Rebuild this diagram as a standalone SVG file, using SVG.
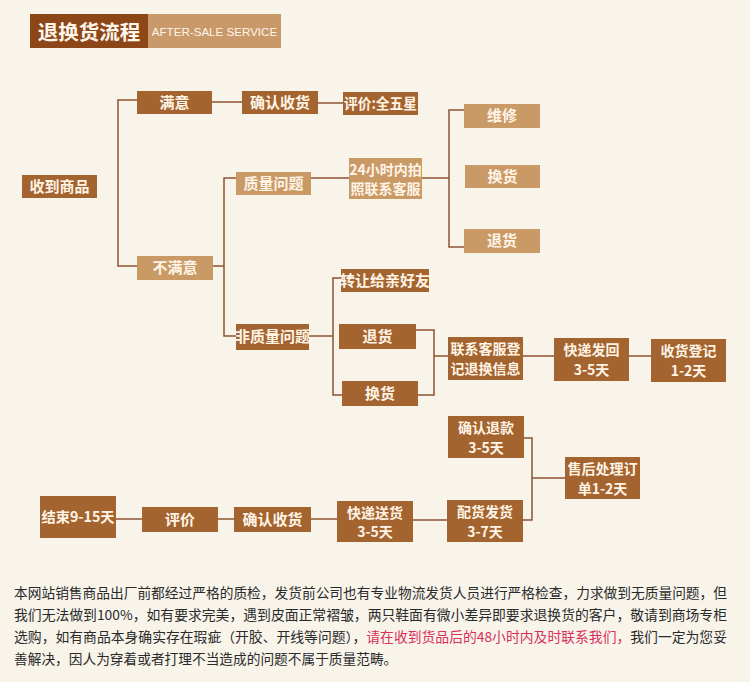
<svg xmlns="http://www.w3.org/2000/svg" width="750" height="682" viewBox="0 0 750 682">
<style>
.dk{fill:#a4642f}
.lt{fill:#c99a66}
.t{fill:#fff4e6;font-family:"Noto Sans CJK SC","Liberation Sans",sans-serif;font-size:15px;font-weight:bold;text-anchor:middle}
.t2{fill:#fff4e6;font-family:"Noto Sans CJK SC","Liberation Sans",sans-serif;font-size:14px;font-weight:bold;text-anchor:middle}
.c{fill:none;stroke:#8e5330;stroke-width:1.5}
.f{fill:#2a2a2a;font-family:"Noto Sans CJK SC","Liberation Sans",sans-serif;font-size:13.7px}
</style>
<rect width="750" height="682" fill="#f8f4ea"/>
<g id="header">
<rect x="30" y="14" width="118" height="34" fill="#8c4618"/>
<rect x="148" y="14" width="133" height="34" fill="#c9996a"/>
<text x="89" y="39.5" fill="#fff6ec" font-family="Noto Sans CJK SC, Liberation Sans, sans-serif" font-size="20.5" font-weight="bold" text-anchor="middle">退换货流程</text>
<text x="214.5" y="35.5" fill="#fff6ec" font-family="Liberation Sans, Arial, sans-serif" font-size="11.6" text-anchor="middle">AFTER-SALE SERVICE</text>
</g>
<g id="connectors">
<path class="c" d="M137 100H118V266H137"/>
<path class="c" d="M212 102H242"/>
<path class="c" d="M318 103H343"/>
<path class="c" d="M213 266H224"/>
<path class="c" d="M236 178H224V336H236"/>
<path class="c" d="M311 178H349"/>
<path class="c" d="M422 178H449"/>
<path class="c" d="M464 110H449V247H464"/>
<path class="c" d="M309 336H333"/>
<path class="c" d="M341 278H333V395H342"/>
<path class="c" d="M416 330H434V395H418"/>
<path class="c" d="M434 356H448"/>
<path class="c" d="M523 356H554"/>
<path class="c" d="M629 356H651"/>
<path class="c" d="M116 519H142"/>
<path class="c" d="M218 519H234"/>
<path class="c" d="M311 519H337"/>
<path class="c" d="M413 520H447"/>
<path class="c" d="M524 438H532V520H523"/>
<path class="c" d="M532 478H565"/>
</g>
<g id="n-receive"><rect class="dk" x="22" y="175" width="75" height="23"/><text class="t" x="59.5" y="192">收到商品</text></g>
<g id="n-satisfied"><rect class="dk" x="137" y="91" width="75" height="23"/><text class="t" x="174.5" y="108">满意</text></g>
<g id="n-confirm1"><rect class="dk" x="242" y="91" width="76" height="23"/><text class="t" x="280" y="108">确认收货</text></g>
<g id="n-rate5"><rect class="dk" x="343" y="92" width="75" height="23"/><text class="t" x="380.5" y="108.5" font-size="14" textLength="73" lengthAdjust="spacingAndGlyphs">评价:全五星</text></g>
<g id="n-unsatisfied"><rect class="lt" x="137" y="256" width="76" height="24"/><text class="t" x="175" y="273">不满意</text></g>
<g id="n-quality"><rect class="lt" x="236" y="172" width="75" height="23"/><text class="t" x="273.5" y="189">质量问题</text></g>
<g id="n-24h"><rect class="lt" x="349" y="158" width="73" height="41"/><text class="t2" x="385.5" y="175">24小时内拍</text><text class="t2" x="385.5" y="194">照联系客服</text></g>
<g id="n-repair"><rect class="lt" x="464" y="104" width="76" height="24"/><text class="t" x="502" y="121">维修</text></g>
<g id="n-exchange1"><rect class="lt" x="465" y="165" width="75" height="23"/><text class="t" x="502.5" y="182">换货</text></g>
<g id="n-return1"><rect class="lt" x="464" y="229" width="76" height="24"/><text class="t" x="502" y="246">退货</text></g>
<g id="n-nonquality"><rect class="dk" x="236" y="324" width="73" height="26"/><text class="t" x="272.5" y="342" font-size="14">非质量问题</text></g>
<g id="n-transfer"><rect class="dk" x="341" y="269" width="88" height="23"/><text class="t" x="385" y="285.5" font-size="14">转让给亲好友</text></g>
<g id="n-return2"><rect class="dk" x="339" y="324" width="77" height="25"/><text class="t" x="377.5" y="342">退货</text></g>
<g id="n-exchange2"><rect class="dk" x="342" y="381" width="76" height="25"/><text class="t" x="380" y="399">换货</text></g>
<g id="n-contact"><rect class="dk" x="448" y="337" width="75" height="43"/><text class="t2" x="485.5" y="354">联系客服登</text><text class="t2" x="485.5" y="374">记退换信息</text></g>
<g id="n-sendback"><rect class="dk" x="554" y="338" width="75" height="43"/><text class="t2" x="591.5" y="355">快递发回</text><text class="t2" x="591.5" y="375">3-5天</text></g>
<g id="n-register"><rect class="dk" x="651" y="339" width="75" height="43"/><text class="t2" x="688.5" y="356">收货登记</text><text class="t2" x="688.5" y="376">1-2天</text></g>
<g id="n-refund"><rect class="dk" x="448" y="416" width="76" height="42"/><text class="t2" x="486" y="433">确认退款</text><text class="t2" x="486" y="453">3-5天</text></g>
<g id="n-aftersale"><rect class="dk" x="565" y="457" width="75" height="42"/><text class="t2" x="602.5" y="474">售后处理订</text><text class="t2" x="602.5" y="494">单1-2天</text></g>
<g id="n-ship"><rect class="dk" x="447" y="500" width="76" height="42"/><text class="t2" x="485" y="517">配货发货</text><text class="t2" x="485" y="537">3-7天</text></g>
<g id="n-deliver"><rect class="dk" x="337" y="501" width="76" height="41"/><text class="t2" x="375" y="518">快递送货</text><text class="t2" x="375" y="537">3-5天</text></g>
<g id="n-confirm2"><rect class="dk" x="234" y="507" width="77" height="25"/><text class="t" x="272.5" y="525">确认收货</text></g>
<g id="n-rate"><rect class="dk" x="142" y="507" width="76" height="25"/><text class="t" x="180" y="525">评价</text></g>
<g id="n-end"><rect class="dk" x="40" y="496" width="76" height="42"/><text class="t2" x="78" y="522" textLength="73" lengthAdjust="spacingAndGlyphs">结束9-15天</text></g>
<g id="footer">
<text class="f" x="14" y="598" textLength="713" lengthAdjust="spacingAndGlyphs">本网站销售商品出厂前都经过严格的质检，发货前公司也有专业物流发货人员进行严格检查，力求做到无质量问题，但</text>
<text class="f" x="14" y="620" textLength="713" lengthAdjust="spacingAndGlyphs">我们无法做到100%，如有要求完美，遇到皮面正常褶皱，两只鞋面有微小差异即要求退换货的客户，敬请到商场专柜</text>
<text class="f" x="14" y="642" textLength="713" lengthAdjust="spacingAndGlyphs">选购，如有商品本身确实存在瑕疵（开胶、开线等问题），<tspan fill="#d8305c">请在收到货品后的48小时内及时联系我们，</tspan>我们一定为您妥</text>
<text class="f" x="14" y="664">善解决，因人为穿着或者打理不当造成的问题不属于质量范畴。</text>
</g>
</svg>
